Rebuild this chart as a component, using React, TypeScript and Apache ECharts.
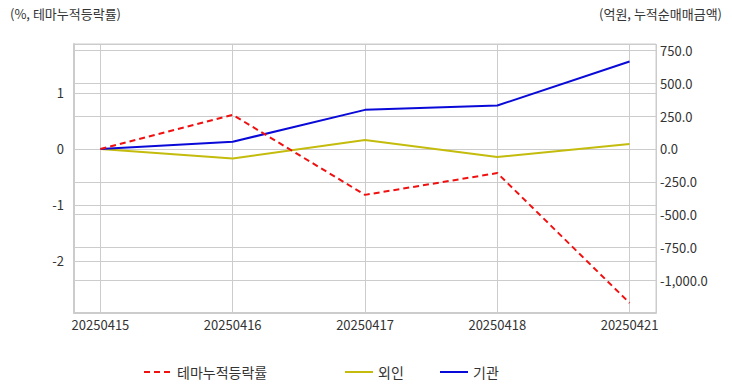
import React, { useEffect, useRef } from "react";
import * as echarts from "echarts";

const dates = ["20250415", "20250416", "20250417", "20250418", "20250421"];
const themeRate = [0, 0.61, -0.82, -0.43, -2.75];
const foreign = [0, -73, 68, -61, 38];
const institution = [0, 55, 298, 331, 667];
const leftTicks = [1, 0, -1, -2];
const rightTicks = [750, 500, 250, 0, -250, -500, -750, -1000];

const FONT = "'Noto Sans CJK KR', 'Noto Sans', sans-serif";
const TXT = "#333";

export default function App() {
  const ref = useRef<HTMLDivElement>(null);
  useEffect(() => {
    const chart = echarts.init(ref.current!, undefined, { renderer: "svg" });
    const toPts = (arr: number[]) => arr.map((v, i) => [i, v]);
    const legendCommon = {
      top: 360, itemWidth: 28, itemHeight: 10,
      itemStyle: { opacity: 0 },
      textStyle: { color: TXT, fontSize: 14, fontFamily: FONT },
    };
    chart.setOption({
      animation: false,
      textStyle: { fontFamily: FONT },
      grid: { left: 74, right: 76, top: 44, bottom: 79, show: true, borderColor: "#ccc", borderWidth: 1 },
      graphic: [
        { type: "text", left: 10, top: 7, style: { text: "(%, 테마누적등락률)", fill: TXT, font: `13px ${FONT}` } },
        { type: "text", right: 10, top: 7, style: { text: "(억원, 누적순매매금액)", fill: TXT, font: `13px ${FONT}` } },
      ],
      legend: [
        { ...legendCommon, data: ["테마누적등락률"], left: 138 },
        { ...legendCommon, data: ["외인"], left: 339 },
        { ...legendCommon, data: ["기관"], left: 434 },
      ],
      xAxis: {
        type: "value",
        min: -0.2,
        max: 4.2,
        axisLine: { show: true, onZero: false, lineStyle: { color: "#ccc", width: 2 } },
        axisTick: { show: false },
        splitLine: { show: true, lineStyle: { color: "#ccc" } },
        axisLabel: {
          color: TXT, fontSize: 13, fontFamily: FONT, margin: 5,
          showMinLabel: false, showMaxLabel: false,
          formatter: (v: number) => (Number.isInteger(v) && dates[v] ? dates[v] : ""),
        },
      },
      yAxis: [
        {
          type: "value",
          position: "left",
          min: -2.93,
          max: 1.875,
          axisLine: { show: true, onZero: false, lineStyle: { color: "#ccc", width: 2 } },
          axisTick: { show: false },
          splitLine: { show: true, lineStyle: { color: "#ccc" } },
          axisLabel: {
            color: TXT, fontSize: 13, fontFamily: FONT, margin: 10,
            showMinLabel: false, showMaxLabel: false,
            formatter: (v: number) => (leftTicks.includes(v) ? String(v) : ""),
          },
        },
        {
          type: "value",
          position: "right",
          min: -1250,
          max: 800,
          interval: 250,
          axisLine: { show: false, onZero: false },
          axisTick: { show: false },
          splitLine: { show: true, lineStyle: { color: "#ccc" } },
          axisLabel: {
            color: TXT, fontSize: 13, fontFamily: FONT, margin: 4,
            showMinLabel: false, showMaxLabel: false,
            formatter: (v: number) =>
              rightTicks.includes(v)
                ? v.toLocaleString("en-US", { minimumFractionDigits: 1, maximumFractionDigits: 1 })
                : "",
          },
        },
      ],
      series: [
        {
          name: "테마누적등락률", type: "line", yAxisIndex: 0, data: toPts(themeRate),
          symbol: "none", lineStyle: { color: "#f01010", width: 2, type: [6, 4] }, itemStyle: { color: "#f01010" }, z: 3,
        },
        {
          name: "외인", type: "line", yAxisIndex: 1, data: toPts(foreign),
          symbol: "none", lineStyle: { color: "#c4bc0c", width: 2 }, itemStyle: { color: "#c4bc0c" }, z: 2,
        },
        {
          name: "기관", type: "line", yAxisIndex: 1, data: toPts(institution),
          symbol: "none", lineStyle: { color: "#0a0ad8", width: 2 }, itemStyle: { color: "#0a0ad8" }, z: 2,
        },
      ],
    });
    return () => chart.dispose();
  }, []);
  return <div ref={ref} style={{ position: "absolute", left: 0, top: 0, width: 732, height: 392 }} />;
}
